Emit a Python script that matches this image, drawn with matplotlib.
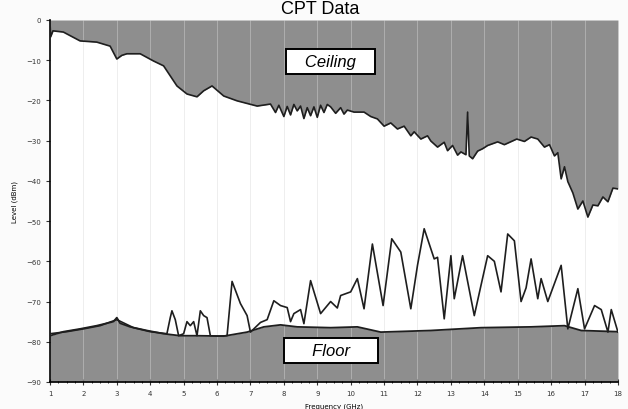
import matplotlib
matplotlib.use("Agg")
import matplotlib.pyplot as plt
from matplotlib.ticker import MultipleLocator
import numpy as np

# ceiling (upper envelope), dB vs frequency in GHz
ceil_f = [1.0, 1.02, 1.09, 1.4, 1.9, 2.4, 2.8, 3.0, 3.15, 3.3, 3.7, 4.1, 4.4, 4.8, 5.1, 5.4, 5.6,
          5.85, 6.2, 6.6, 7.2, 7.6, 7.75, 7.85, 8.0, 8.1, 8.2, 8.3, 8.4, 8.5, 8.6, 8.7, 8.8, 8.9,
          9.0, 9.1, 9.2, 9.3, 9.4, 9.55, 9.7, 9.8, 9.9, 10.1, 10.4, 10.6, 10.8, 11.0, 11.2, 11.4,
          11.6, 11.8, 11.9, 12.1, 12.3, 12.4, 12.6, 12.8, 12.9, 13.05, 13.2, 13.3, 13.45, 13.5,
          13.55, 13.65, 13.8, 13.95, 14.1, 14.4, 14.6, 14.97, 15.2, 15.4, 15.6, 15.8, 15.95, 16.1,
          16.2, 16.3, 16.4, 16.5, 16.65, 16.8, 16.95, 17.1, 17.25, 17.4, 17.55, 17.7, 17.85, 18.0]
ceil_db = [-0.5, -4.2, -2.7, -3.0, -5.2, -5.5, -6.5, -9.7, -8.8, -8.4, -8.4, -10.2, -11.4, -16.4,
           -18.4, -19.1, -17.6, -16.4, -18.9, -20.1, -21.4, -20.9, -23.0, -21.2, -24.0, -21.5,
           -23.6, -21.0, -22.6, -21.4, -24.5, -21.8, -23.8, -21.6, -24.2, -21.2, -23.0, -21.0,
           -21.6, -23.2, -21.8, -23.4, -22.4, -22.9, -22.9, -24.0, -24.6, -26.4, -25.6, -27.1,
           -26.4, -28.8, -27.8, -29.6, -28.8, -30.1, -31.6, -30.4, -32.5, -31.2, -33.6, -32.8,
           -33.5, -22.9, -33.8, -34.5, -32.6, -32.0, -31.2, -30.3, -31.0, -29.6, -30.2, -29.1,
           -29.6, -31.6, -31.0, -33.8, -33.0, -39.5, -36.5, -40.2, -43.0, -47.0, -45.0, -49.0,
           -46.0, -46.2, -44.0, -45.2, -41.8, -42.0]

# floor (lower envelope)
floor_f = [1.0, 1.4, 1.9, 2.4, 2.9, 3.0, 3.1, 3.4, 3.9, 4.4, 4.9, 5.4, 6.2, 6.9, 7.4, 7.9, 8.4,
           9.4, 10.2, 10.9, 12.4, 13.9, 15.4, 16.4, 16.9, 18.0]
floor_db = [-78.5, -77.5, -76.8, -76.0, -75.0, -74.0, -75.4, -76.3, -77.2, -78.0, -78.5, -78.5,
            -78.6, -77.6, -76.3, -75.8, -76.3, -76.5, -76.3, -77.6, -77.2, -76.5, -76.3, -76.0,
            -77.2, -77.5]

# measured trace
meas_f = [1.0, 1.5, 2.0, 2.5, 3.0, 3.5, 4.0, 4.5, 4.6, 4.65, 4.75, 4.85, 5.0, 5.1, 5.2, 5.3,
          5.4, 5.5, 5.6, 5.7, 5.8, 6.0, 6.3, 6.45, 6.7, 6.9, 7.0, 7.3, 7.5, 7.7, 7.9, 8.1, 8.2,
          8.3, 8.5, 8.6, 8.8, 9.1, 9.4, 9.6, 9.7, 10.0, 10.2, 10.4, 10.65, 10.97, 11.23, 11.5,
          11.8, 12.0, 12.2, 12.5, 12.6, 12.8, 13.0, 13.1, 13.35, 13.7, 13.9, 14.1, 14.3, 14.5,
          14.7, 14.9, 15.1, 15.25, 15.4, 15.6, 15.7, 15.9, 16.3, 16.5, 16.8, 17.0, 17.3, 17.5,
          17.7, 17.8, 18.0]
meas_db = [-78.0, -77.5, -76.8, -76.0, -74.5, -76.5, -77.5, -78.0, -74.0, -72.3, -74.5, -78.5,
           -78.0, -75.0, -76.0, -75.0, -78.5, -72.3, -73.5, -74.0, -78.5, -78.6, -78.5, -65.0,
           -70.5, -73.5, -77.6, -75.2, -74.5, -69.8, -71.0, -71.5, -75.0, -73.0, -72.0, -75.5,
           -64.8, -73.0, -70.0, -71.6, -68.5, -67.6, -64.3, -71.8, -55.7, -71.0, -54.4, -57.7,
           -71.8, -61.0, -51.9, -59.4, -59.0, -74.3, -58.6, -69.3, -58.6, -73.5, -66.0, -58.6,
           -60.0, -67.6, -53.2, -54.9, -70.0, -66.6, -59.4, -69.3, -64.3, -70.0, -61.0, -76.8,
           -66.8, -76.8, -71.0, -72.0, -77.6, -72.0, -77.6]

grey = "#8e8e8e"
line_c = "#1e1e1e"

fig = plt.figure(figsize=(6.28, 4.10), dpi=100)
fig.patch.set_facecolor("#fbfbfb")
ax = fig.add_axes([0.0796, 0.0659, 0.9044, 0.8829])
ax.set_facecolor("white")

ax.fill_between(ceil_f, ceil_db, 0, color=grey, lw=0, zorder=1)
ax.fill_between(floor_f, floor_db, -90, color=grey, lw=0, zorder=1)
ax.plot(ceil_f, ceil_db, color=line_c, lw=1.2, zorder=3)
ax.plot(floor_f, floor_db, color=line_c, lw=1.3, zorder=3)
ax.plot(meas_f, meas_db, color=line_c, lw=1.2, zorder=3)

for f in range(2, 18):
    ax.axvline(f, color="#d8d8d8", lw=0.6, zorder=2, alpha=0.5)

box = dict(boxstyle="square,pad=0.3", fc="white", ec="black", lw=1.4)
ax.text(9.4, -10.2, "   Ceiling   ", fontsize=12, style="italic", family="Liberation Sans",
        ha="center", va="center", bbox=box, zorder=5)
ax.text(9.4, -82.2, "     Floor     ", fontsize=12, style="italic", family="Liberation Sans",
        ha="center", va="center", bbox=box, zorder=5)

ax.set_xlim(1, 18)
ax.set_ylim(-90, 0)
ax.set_xticks(np.arange(1, 19))
ax.xaxis.set_minor_locator(MultipleLocator(0.25))
ax.set_yticks(np.arange(-90, 1, 10))
ax.tick_params(axis="both", labelsize=5, length=3, width=0.8, color="#333333", labelcolor="#333333")
ax.tick_params(axis="x", which="minor", length=2, width=0.6, direction="inout")
ax.tick_params(axis="x", which="major", direction="inout", length=4)
for side in ["top", "right"]:
    ax.spines[side].set_visible(False)
ax.spines["left"].set_linewidth(1.2)
ax.spines["bottom"].set_linewidth(1.2)

ax.set_ylabel("Level (dBm)", fontsize=5, labelpad=6)
ax.set_xlabel("Frequency (GHz)", fontsize=5, labelpad=5)

fig.text(0.51, 0.997, "CPT Data", fontsize=13, ha="center", va="top", family="Liberation Sans")

fig.savefig("out.png", dpi=100, facecolor=fig.get_facecolor())
